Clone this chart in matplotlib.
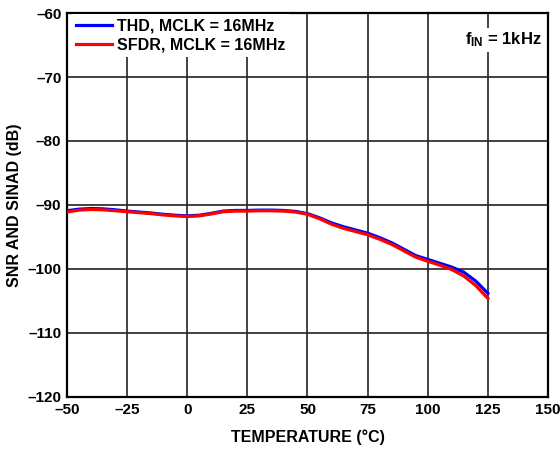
import matplotlib
matplotlib.use("Agg")
import matplotlib.pyplot as plt

plt.rcParams['font.family'] = ['Liberation Sans', 'DejaVu Sans']
plt.rcParams['font.weight'] = 'bold'
plt.rcParams['mathtext.fontset'] = 'custom'
plt.rcParams['mathtext.rm'] = 'Liberation Sans:bold'
plt.rcParams['mathtext.bf'] = 'Liberation Sans:bold'
plt.rcParams['mathtext.it'] = 'Liberation Sans:bold'

# temperature (°C)
temp = [-50, -45, -40, -35, -30, -25, -20, -15, -10, -5, 0, 5, 10, 15, 20, 25,
        30, 35, 40, 45, 50, 55, 60, 65, 70, 75, 80, 85, 90, 95, 100, 105, 110,
        115, 120, 125]
thd = [-90.9, -90.65, -90.55, -90.6, -90.75, -90.95, -91.1, -91.25, -91.45, -91.6,
       -91.7, -91.6, -91.3, -90.95, -90.85, -90.85, -90.8, -90.8, -90.85, -91.0,
       -91.35, -92.0, -92.8, -93.4, -93.9, -94.4, -95.1, -95.9, -96.9, -97.9,
       -98.5, -99.1, -99.7, -100.5, -101.9, -103.8]
sfdr = [-91.1, -90.8, -90.7, -90.75, -90.9, -91.05, -91.2, -91.35, -91.55, -91.7,
        -91.8, -91.7, -91.4, -91.05, -90.95, -90.95, -90.9, -90.9, -90.95, -91.1,
        -91.45, -92.15, -93.0, -93.65, -94.15, -94.65, -95.35, -96.15, -97.15, -98.15,
        -98.8, -99.4, -100.1, -101.1, -102.6, -104.6]

fig = plt.figure(figsize=(5.6, 4.5), dpi=100)
ax = fig.add_axes([0.1196, 0.1178, 0.859, 0.8533])

ax.plot(temp, thd, color='#0000ff', lw=2.3, label='THD, MCLK = 16MHz', zorder=3,
        solid_joinstyle='round')
ax.plot(temp, sfdr, color='#ff0000', lw=2.3, label='SFDR, MCLK = 16MHz', zorder=4,
        solid_joinstyle='round')

ax.set_xlim(-50, 150)
ax.set_ylim(-120, -60)
ax.set_xticks(range(-50, 151, 25))
ax.set_yticks(range(-120, -59, 10))
ax.set_xticklabels([str(v).replace('-', '\u2013') for v in range(-50, 151, 25)])
ax.set_yticklabels([str(v).replace('-', '\u2013') for v in range(-120, -59, 10)])
ax.tick_params(length=0, labelsize=11, pad=4)
ax.grid(True, color='#222222', lw=1.2)
ax.set_axisbelow(True)
for s in ax.spines.values():
    s.set_linewidth(1.6)

ax.set_xlabel('TEMPERATURE (°C)', fontsize=11.5, fontweight='bold', labelpad=9)
ax.set_ylabel('SNR AND SINAD (dB)', fontsize=11.5, fontweight='bold', labelpad=4)

leg = ax.legend(loc='upper left', bbox_to_anchor=(0.008, 1.0), frameon=True,
                fancybox=False, framealpha=1, edgecolor='none', fontsize=11.5,
                handlelength=2.2, handletextpad=0.35, borderaxespad=0.05,
                borderpad=0.3, labelspacing=0.25)
leg.set_zorder(5)

ax.text(0.988, 0.93, r'$\mathregular{f_{IN}}$ = 1kHz', transform=ax.transAxes,
        ha='right', va='center', fontsize=12, fontweight='bold', zorder=5,
        bbox=dict(facecolor='white', edgecolor='none', pad=2))

fig.savefig('out.png', dpi=100)
